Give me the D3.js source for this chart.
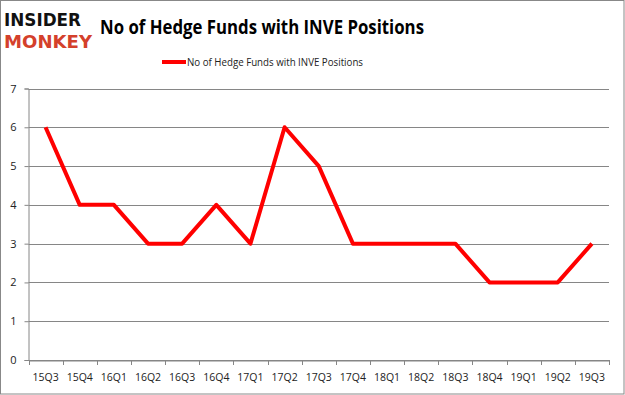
<!DOCTYPE html>
<html>
<head>
<meta charset="utf-8">
<script src="https://cdn.jsdelivr.net/npm/d3@7"></script>
<style>
  body { margin: 0; background: #fff; }
  svg { display: block; }
</style>
</head>
<body>
<div id="chart"></div>
<script>
// chart data
const quarters = ["15Q3", "15Q4", "16Q1", "16Q2", "16Q3", "16Q4", "17Q1", "17Q2", "17Q3",
  "17Q4", "18Q1", "18Q2", "18Q3", "18Q4", "19Q1", "19Q2", "19Q3"];
const funds = [6, 4, 4, 3, 3, 4, 3, 6, 5, 3, 3, 3, 3, 2, 2, 2, 3];
const yTicks = [0, 1, 2, 3, 4, 5, 6, 7];
const seriesName = "No of Hedge Funds with INVE Positions";
const title = "No of Hedge Funds with INVE Positions";

const W = 625, H = 395;
const plot = { left: 28.5, right: 609, top: 88.5, bottom: 360 };

const svg = d3.select("#chart").append("svg")
  .attr("width", W)
  .attr("height", H);

// outer frame
svg.append("rect")
  .attr("x", 0.5).attr("y", 0.5)
  .attr("width", W - 1.5).attr("height", H - 1.5)
  .attr("fill", "#fff")
  .attr("stroke", "#888");

// logo
const logo = svg.append("g").style("font-family", "'DejaVu Sans', sans-serif")
  .style("font-weight", "bold");
logo.append("text").attr("x", 4).attr("y", 26)
  .attr("textLength", 77).attr("lengthAdjust", "spacingAndGlyphs")
  .style("font-size", "18.5px").attr("fill", "#111").text("INSIDER");
logo.append("text").attr("x", 4).attr("y", 48)
  .attr("textLength", 88).attr("lengthAdjust", "spacingAndGlyphs")
  .style("font-size", "18.5px").attr("fill", "#d4402b").text("MONKEY");

// title
svg.append("text")
  .attr("x", 262).attr("y", 34)
  .attr("text-anchor", "middle")
  .attr("textLength", 324).attr("lengthAdjust", "spacingAndGlyphs")
  .style("font-family", "'Open Sans', sans-serif")
  .style("font-weight", "bold")
  .style("font-size", "20px")
  .attr("fill", "#000")
  .text(title);

// legend
svg.append("line")
  .attr("x1", 162).attr("x2", 186).attr("y1", 62).attr("y2", 62)
  .attr("stroke", "#ff0000").attr("stroke-width", 4);
svg.append("text")
  .attr("x", 187).attr("y", 66)
  .attr("textLength", 176).attr("lengthAdjust", "spacingAndGlyphs")
  .style("font-family", "'Open Sans', sans-serif")
  .style("font-size", "11px")
  .attr("fill", "#222")
  .text(seriesName);

// scales
const x = d3.scaleBand().domain(quarters).range([plot.left, plot.right]);
const y = d3.scaleLinear().domain([0, 7]).range([plot.bottom, plot.top]);

// gridlines
svg.append("g")
  .selectAll("line")
  .data(yTicks)
  .enter()
  .append("line")
  .attr("x1", plot.left).attr("x2", plot.right)
  .attr("y1", d => Math.round(y(d)) + 0.5)
  .attr("y2", d => Math.round(y(d)) + 0.5)
  .attr("stroke", "#868686").attr("stroke-width", 1);

// y axis
const yAxis = svg.append("g")
  .attr("transform", `translate(${plot.left},0)`)
  .call(d3.axisLeft(y).tickValues(yTicks).tickSize(4).tickFormat(d3.format("d")));
yAxis.select(".domain").attr("stroke", "#868686");
yAxis.selectAll(".tick line").attr("stroke", "#868686");
yAxis.selectAll("text")
  .attr("x", -12)
  .style("font-family", "'Open Sans', sans-serif")
  .style("font-size", "11px")
  .attr("fill", "#222");

// x axis
const xAxis = svg.append("g")
  .attr("transform", `translate(0,${Math.round(plot.bottom) + 0.5})`)
  .call(d3.axisBottom(x).tickSize(0).tickPadding(13));
xAxis.select(".domain").attr("stroke", "#868686");
xAxis.selectAll("text")
  .style("font-family", "'Open Sans', sans-serif")
  .style("font-size", "10.5px")
  .attr("fill", "#222");
// category boundary ticks
svg.append("g")
  .selectAll("line")
  .data(quarters.concat(["end"]))
  .enter()
  .append("line")
  .attr("x1", (d, i) => Math.round(plot.left + i * x.step()) + 0.5)
  .attr("x2", (d, i) => Math.round(plot.left + i * x.step()) + 0.5)
  .attr("y1", plot.bottom).attr("y2", plot.bottom + 5)
  .attr("stroke", "#868686");

// series line
const line = d3.line()
  .x((d, i) => x(quarters[i]) + x.bandwidth() / 2)
  .y(d => y(d));
svg.append("path")
  .datum(funds)
  .attr("d", line)
  .attr("fill", "none")
  .attr("stroke", "#ff0000")
  .attr("stroke-width", 4)
  .attr("stroke-linejoin", "round");
</script>
</body>
</html>
